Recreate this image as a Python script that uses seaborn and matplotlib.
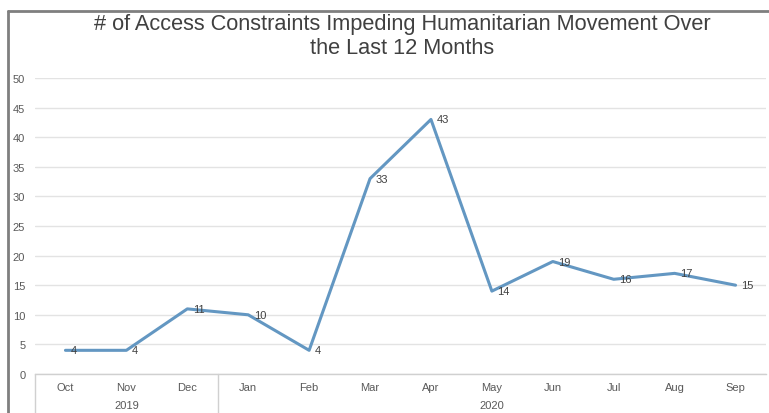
import matplotlib
matplotlib.use("Agg")
import matplotlib.pyplot as plt
from matplotlib.lines import Line2D
import seaborn as sns
import pandas as pd

months = ["Oct", "Nov", "Dec", "Jan", "Feb", "Mar", "Apr", "May", "Jun", "Jul", "Aug", "Sep"]
years = ["2019", "2020"]
year_spans = [(0, 3), (3, 12)]
constraints = [4, 4, 11, 10, 4, 33, 43, 14, 19, 16, 17, 15]
title = "# of Access Constraints Impeding Humanitarian Movement Over\nthe Last 12 Months"

sns.set_theme(style="white")
plt.rcParams["font.family"] = ["Liberation Sans", "DejaVu Sans"]

W, H = 769, 414
fig = plt.figure(figsize=(W / 100, H / 100), dpi=100)
ax = fig.add_axes([35 / W, 39 / H, (766 - 35) / W, (375 - 79) / H])

df = pd.DataFrame({"month": months, "count": constraints})
sns.lineplot(data=df, x="month", y="count", ax=ax, color="#6397c2", linewidth=2.2, sort=False)

ax.set_xlim(-0.5, len(months) - 0.5)
ax.set_ylim(0, 50)
ax.set_yticks(range(0, 51, 5))
ax.yaxis.grid(True, color="#e3e3e3", linewidth=1)
ax.set_axisbelow(True)
for s in ["top", "right", "left"]:
    ax.spines[s].set_visible(False)
ax.spines["bottom"].set_color("#d0d0d0")
ax.spines["bottom"].set_linewidth(1)
ax.tick_params(axis="y", length=0, labelsize=8, labelcolor="#595959", pad=7)
ax.set_xticks(range(len(months)))
ax.set_xticklabels(months)
ax.tick_params(axis="x", length=0, labelsize=8, labelcolor="#595959", pad=6)
ax.set_xlabel("")
ax.set_ylabel("")

# value labels just right of each point
for i, v in enumerate(constraints):
    ax.annotate(str(v), (i, v), xytext=(4, 0), textcoords="offset points",
                ha="left", va="center", fontsize=8, color="#404040")

# second-level category axis (years) with separators
trans = ax.get_xaxis_transform()
for yr, (a, b) in zip(years, year_spans):
    ax.text((a + b - 1) / 2, -0.105, yr, transform=trans, ha="center", va="center",
            fontsize=8, color="#595959")
for b in [0, 3]:
    ax.add_line(Line2D([b - 0.5, b - 0.5], [0, -0.14], transform=trans, color="#d0d0d0",
                       linewidth=1, clip_on=False))

fig.text(402 / W, 1 - 36.5 / H, title, ha="center", va="center", fontsize=15.7,
         color="#404040", linespacing=1.2)

# outer frame on the top and left edges
frame = dict(color="#7f7f7f", linewidth=2, transform=fig.transFigure)
fig.add_artist(Line2D([8 / W, 1], [1 - 12 / H, 1 - 12 / H], **frame))
fig.add_artist(Line2D([8 / W, 8 / W], [0, 1 - 12 / H], **frame))

fig.savefig("out.png", dpi=100)
